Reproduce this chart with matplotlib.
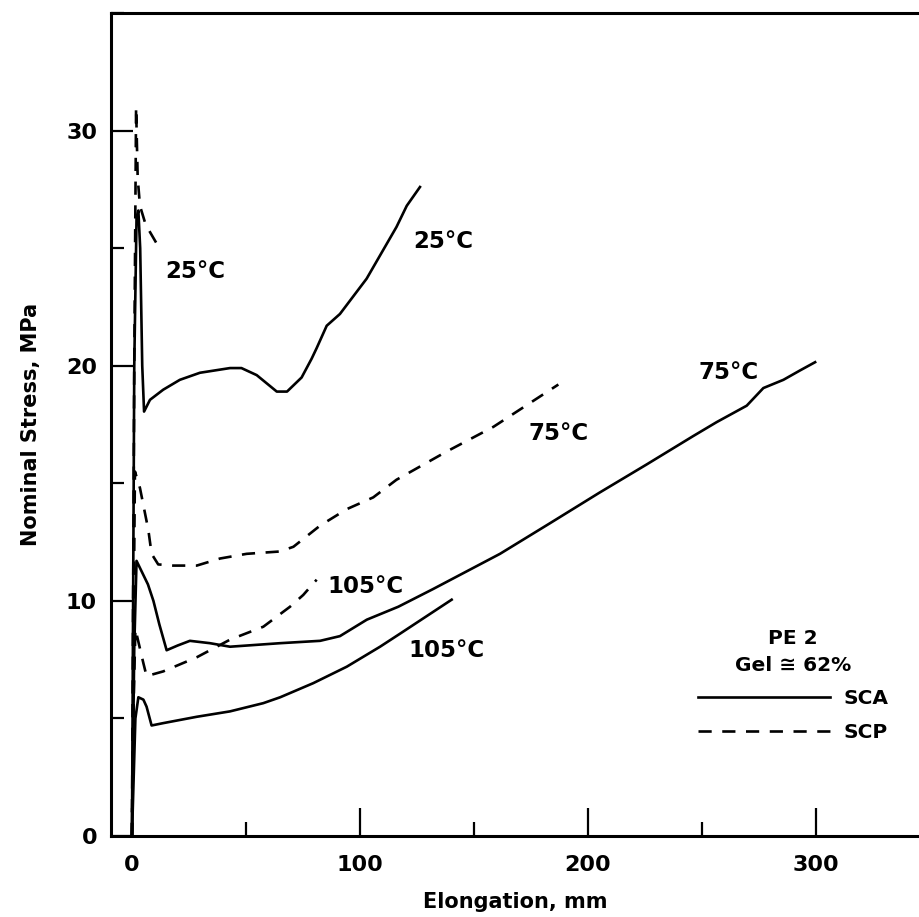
import matplotlib
matplotlib.use('Agg')
import matplotlib.pyplot as plt
from matplotlib.ticker import MultipleLocator

plt.rcParams['font.family'] = ['DejaVu Sans']
plt.rcParams['font.weight'] = 'bold'

# SCA (solid) curves
sca25_x = [0, 1.0, 2.0, 2.8, 3.6, 4.5, 5.3, 7.9, 13.7, 21, 29.8, 43, 48, 54.7, 63.5, 68,
           74.4, 78.8, 81, 85.4, 91.2, 102.9, 116, 120.5, 126.3]
sca25_y = [0, 20, 26.3, 26.6, 25, 20, 18.05, 18.55, 18.98, 19.4, 19.7, 19.9, 19.9, 19.6,
           18.9, 18.9, 19.5, 20.3, 20.75, 21.7, 22.2, 23.7, 25.9, 26.8, 27.6]
sca75_x = [0, 1.0, 2.0, 4.5, 7, 9.4, 12, 15.2, 20, 25.4, 34.2, 43, 65, 82.5, 91.2, 103, 116.8,
           132, 161.4, 183.3, 205, 225.7, 246, 256.4, 269.6, 276.9, 285.7, 293, 299.6]
sca75_y = [0, 8, 11.7, 11.2, 10.7, 10.0, 9.0, 7.9, 8.1, 8.3, 8.2, 8.05, 8.2, 8.3, 8.5, 9.2,
           9.75, 10.5, 12.0, 13.3, 14.6, 15.8, 17.0, 17.6, 18.3, 19.05, 19.4, 19.8, 20.15]
sca105_x = [0, 1.5, 2.8, 5, 6.4, 8.6, 13.7, 28.4, 43, 57.6, 65, 79.5, 94.2, 108.8, 117.5, 140.2]
sca105_y = [0, 5, 5.9, 5.8, 5.5, 4.7, 4.8, 5.07, 5.3, 5.65, 5.9, 6.5, 7.2, 8.05, 8.6, 10.05]

# SCP (dashed) curves
scp25_x = [0, 1.0, 1.8, 2.5, 3.5, 6, 10.8]
scp25_y = [0, 20, 31, 28, 26.8, 26, 25.2]
scp75_x = [0, 0.8, 1.3, 3.5, 7.2, 8.6, 11.5, 18, 28.4, 38.6, 50.3, 64.9, 70.8, 82.5, 94.2,
           105.8, 116, 138, 158.5, 187]
scp75_y = [0, 10, 15.5, 14.8, 13.0, 12.0, 11.55, 11.5, 11.5, 11.8, 12.0, 12.1, 12.3, 13.2,
           13.9, 14.4, 15.15, 16.35, 17.4, 19.2]
scp105_x = [0, 0.8, 1.5, 5, 6.4, 13.7, 28.4, 43, 57.6, 69.3, 75.1, 81]
scp105_y = [0, 6, 8.8, 7.35, 6.8, 7.0, 7.6, 8.35, 8.9, 9.75, 10.25, 10.9]

# curve labels
lbl_text = ['25°C', '25°C', '75°C', '75°C', '105°C', '105°C']
lbl_x = [27.6, 136.5, 187, 261.5, 102.2, 138]
lbl_y = [24.0, 25.3, 17.1, 19.7, 10.6, 7.9]

fig = plt.figure(figsize=(9.2, 9.17), dpi=100)
ax = fig.add_axes([111 / 920, 81 / 917, 809 / 920, 823 / 917])

lw = 1.9
dash = (5, 4)
l1, = ax.plot(sca25_x, sca25_y, 'k-', lw=lw)
ax.plot(sca75_x, sca75_y, 'k-', lw=lw)
ax.plot(sca105_x, sca105_y, 'k-', lw=lw)
l2, = ax.plot(scp25_x, scp25_y, 'k--', lw=lw, dashes=dash)
ax.plot(scp75_x, scp75_y, 'k--', lw=lw, dashes=dash)
ax.plot(scp105_x, scp105_y, 'k--', lw=lw, dashes=dash)

for t, x, y in zip(lbl_text, lbl_x, lbl_y):
    ax.text(x, y, t, fontsize=16.5, fontweight='bold', ha='center', va='center')

ax.set_xlim(-9.2, 345.6)
ax.set_ylim(0, 35)
ax.spines['right'].set_visible(False)
for s in ['left', 'top', 'bottom']:
    ax.spines[s].set_linewidth(2.2)

ax.xaxis.set_major_locator(MultipleLocator(100))
ax.xaxis.set_minor_locator(MultipleLocator(50))
ax.yaxis.set_major_locator(MultipleLocator(10))
ax.yaxis.set_minor_locator(MultipleLocator(5))
ax.tick_params(axis='x', which='major', direction='in', length=20, width=1.6, pad=14, labelsize=16)
ax.tick_params(axis='x', which='minor', direction='in', length=10, width=1.6)
ax.tick_params(axis='y', which='major', direction='in', length=16, width=1.6, pad=10, labelsize=16)
ax.tick_params(axis='y', which='minor', direction='in', length=9.5, width=1.6)
ax.xaxis.set_ticks_position('bottom')
ax.yaxis.set_ticks_position('left')
for lab in ax.get_xticklabels() + ax.get_yticklabels():
    lab.set_fontweight('bold')

ax.set_xlabel('Elongation, mm', fontsize=15, fontweight='bold', labelpad=12)
ax.set_ylabel('Nominal Stress, MPa', fontsize=15, fontweight='bold', labelpad=18)

leg = ax.legend([l1, l2], ['SCA', 'SCP'], title='PE 2\nGel \u2245 62%',
                loc='upper left', bbox_to_anchor=(0.7256, 0.251), frameon=False,
                fontsize=14.5, title_fontproperties={'weight': 'bold', 'size': 14.5},
                handlelength=6.56, handletextpad=0.65, labelspacing=0.72,
                borderpad=0, borderaxespad=0, alignment='center')
leg.get_title().set_linespacing(1.5)
leg.get_title().set_multialignment('center')
for t in leg.get_texts():
    t.set_fontweight('bold')

fig.savefig('out.png', dpi=100)
